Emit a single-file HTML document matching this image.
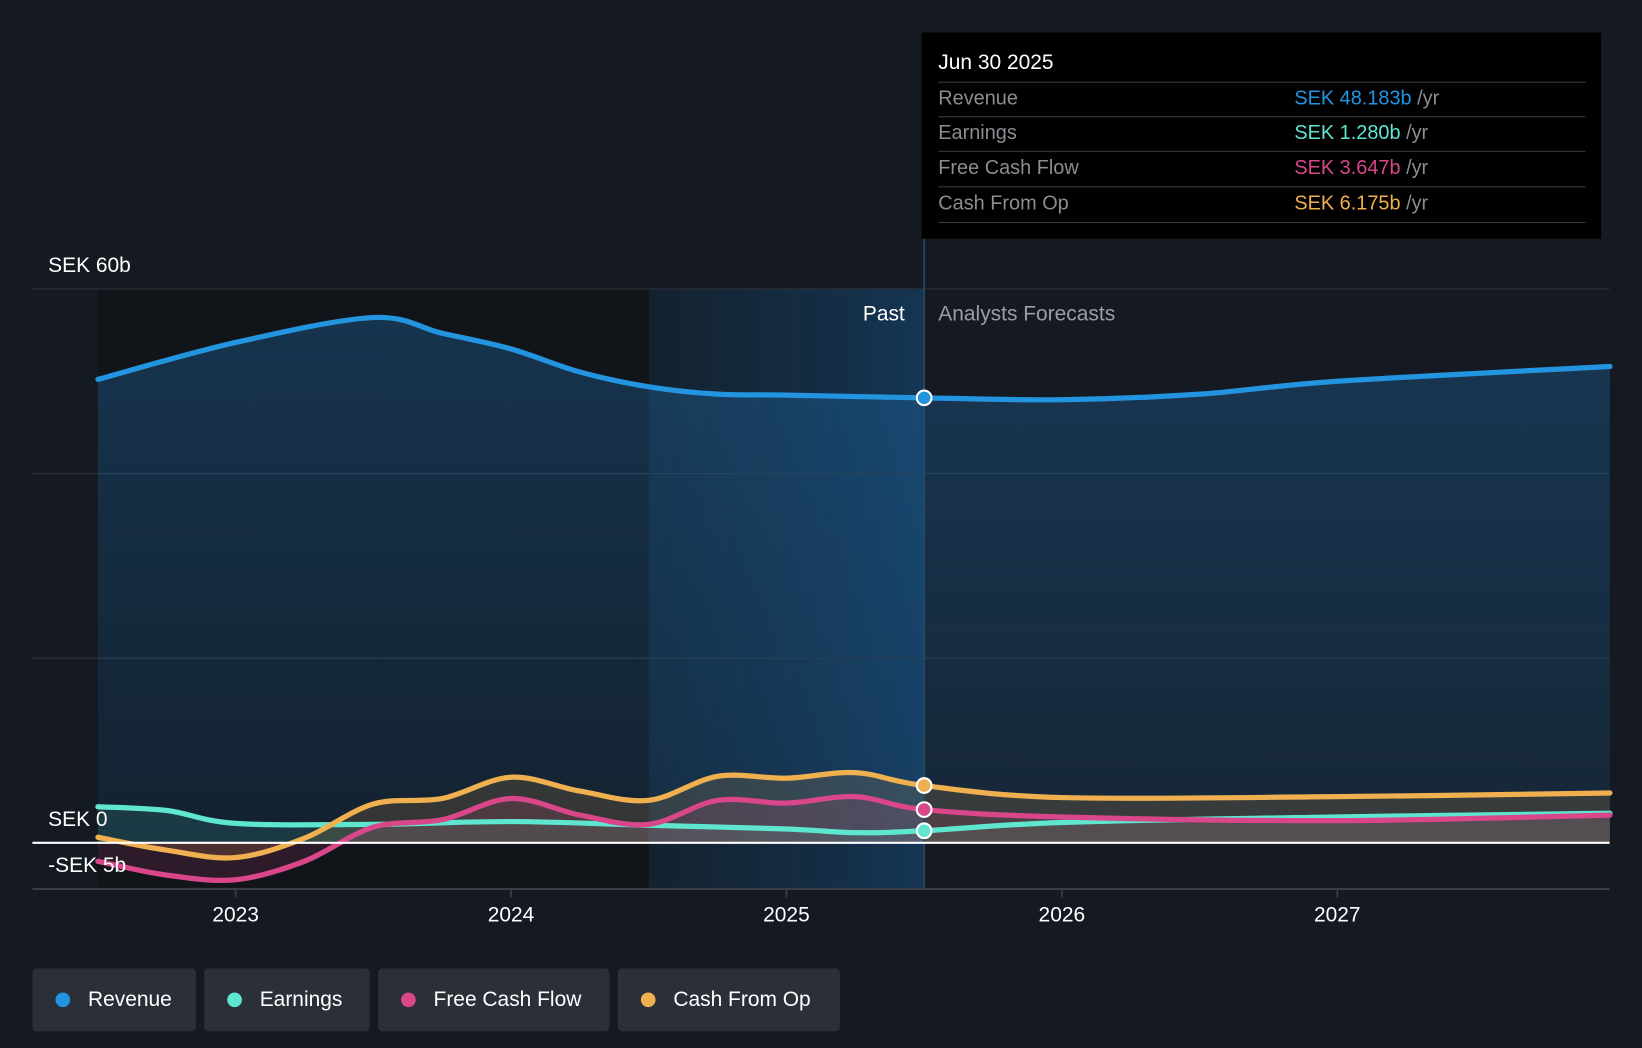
<!DOCTYPE html>
<html><head><meta charset="utf-8"><style>
html,body{margin:0;padding:0;width:1642px;height:1048px;overflow:hidden;background:#151a22;font-family:"Liberation Sans",Arial,sans-serif;}
#wrap{position:absolute;left:0;top:0;width:1568px;height:1001px;transform:scale(1.04719,1.04695);transform-origin:0 0;}
svg{position:absolute;left:0;top:0;}
.tip{position:absolute;left:880px;top:31px;width:649px;height:197px;background:#000;}
.tip .d{position:absolute;left:16px;top:18px;color:#fff;font-size:20px;}
.row{position:absolute;left:16px;width:618px;height:33px;border-top:1px solid #3a3d42;font-size:19px;color:#8a8d92;line-height:31px;}
.row span.v{position:absolute;left:340px;}
.leg{position:absolute;top:925px;height:60px;background:#2a2f38;border-radius:4px;color:#fff;font-size:20px;line-height:60px;}
.leg i{position:absolute;left:22px;top:23px;width:14px;height:14px;border-radius:50%;}
.leg span{position:absolute;left:53px;}
</style></head><body>
<div id="wrap">
<svg id="chart" width="1568" height="1001">
<defs>
<linearGradient id="pastHi" x1="0" x2="1" y1="0" y2="0"><stop offset="0" stop-color="#14283a" stop-opacity="0.6"/><stop offset="1" stop-color="#15395a" stop-opacity="0.9"/></linearGradient>
<linearGradient id="revFill" x1="0" x2="0" y1="0" y2="1"><stop offset="0" stop-color="#1f6fb0" stop-opacity="0.35"/><stop offset="1" stop-color="#1f6fb0" stop-opacity="0.15"/></linearGradient>
</defs>
</svg>
<div class="tip">
<div class="d">Jun 30 2025</div>
<div class="row" style="top:47px">Revenue<span class="v"><b style="font-weight:normal;color:#2394df">SEK 48.183b</b> /yr</span></div>
<div class="row" style="top:80px">Earnings<span class="v"><b style="font-weight:normal;color:#5ee6cf">SEK 1.280b</b> /yr</span></div>
<div class="row" style="top:113px">Free Cash Flow<span class="v"><b style="font-weight:normal;color:#d9468a">SEK 3.647b</b> /yr</span></div>
<div class="row" style="top:147px;height:33px;border-bottom:1px solid #3a3d42">Cash From Op<span class="v"><b style="font-weight:normal;color:#f0b050">SEK 6.175b</b> /yr</span></div>
</div>
<div class="leg" style="left:31px;width:156px"><i style="background:#2394df"></i><span>Revenue</span></div>
<div class="leg" style="left:195px;width:158px"><i style="background:#5ee6cf"></i><span>Earnings</span></div>
<div class="leg" style="left:361px;width:221px"><i style="background:#d9468a"></i><span>Free Cash Flow</span></div>
<div class="leg" style="left:590px;width:212px"><i style="background:#f0b050"></i><span>Cash From Op</span></div>
</div>
<script>
const revT=[2022.5,2023,2023.5,2023.75,2024,2024.25,2024.5,2024.75,2025,2025.5,2026,2026.5,2027,2027.99];
const revV=[50.2,54.2,56.9,55.2,53.5,51.0,49.4,48.6,48.5,48.2,48.0,48.6,50.0,51.6];
const cfoT=[2022.5,2022.75,2023,2023.25,2023.5,2023.75,2024,2024.25,2024.5,2024.75,2025,2025.25,2025.5,2026,2027,2027.99];
const cfoV=[0.6,-0.8,-1.6,0.5,4.2,4.8,7.1,5.6,4.6,7.2,7.0,7.6,6.2,4.9,5.0,5.4];
const fcfT=[2022.5,2022.75,2023,2023.25,2023.5,2023.75,2024,2024.25,2024.5,2024.75,2025,2025.25,2025.5,2026,2027,2027.99];
const fcfV=[-2.0,-3.5,-4.0,-2.0,1.7,2.5,4.8,3.0,2.0,4.6,4.3,5.0,3.6,2.8,2.4,3.0];
const earT=[2022.5,2022.75,2023,2023.5,2024,2024.5,2025,2025.25,2025.5,2026,2027,2027.99];
const earV=[3.9,3.5,2.1,2.0,2.3,1.9,1.5,1.1,1.3,2.2,2.8,3.2];
const yTicks=[60,40,20];
const xTicks=[2023,2024,2025,2026,2027];
const NS="http://www.w3.org/2000/svg";
const svg=document.getElementById('chart');
const X=t=>225+(t-2023)*263;
const Y=v=>805-v*8.817;
function mk(tag,at,parent){const e=document.createElementNS(NS,tag);for(const k in at)e.setAttribute(k,at[k]);(parent||svg).appendChild(e);return e;}
let r=mk('rect',{x:X(2022.5),y:Y(60),width:X(2024.5)-X(2022.5),height:Y(-5)-Y(60),fill:'#111419'});


r=mk('rect',{x:X(2024.5),y:Y(60),width:X(2025.5)-X(2024.5),height:Y(-5)-Y(60),fill:'url(#pastHi)'});


yTicks.forEach(v=>{const l=mk('line',{x1:31,x2:1537,y1:Y(v),y2:Y(v),stroke:'#2c323b','stroke-width':1});

});
function path(T,V){const p=T.map((t,i)=>[X(t),Y(V[i])]);let d=`M${p[0][0]},${p[0][1]}`;
for(let i=0;i<p.length-1;i++){const p0=p[Math.max(0,i-1)],p1=p[i],p2=p[i+1],p3=p[Math.min(p.length-1,i+2)];
const c1=[p1[0]+(p2[0]-p0[0])/6,p1[1]+(p2[1]-p0[1])/6],c2=[p2[0]-(p3[0]-p1[0])/6,p2[1]-(p3[1]-p1[1])/6];
d+=`C${c1[0]},${c1[1]} ${c2[0]},${c2[1]} ${p2[0]},${p2[1]}`;}return d;}
const series=[[revT,revV,'#2394df','url(#revFill)',1,'revenue'],[earT,earV,'#5ee6cf','#5ee6cf',0.12,'earnings'],[fcfT,fcfV,'#d9468a','#d9468a',0.15,'fcf'],[cfoT,cfoV,'#f0b050','#f0b050',0.15,'cfo']];
series.forEach(s=>{const d=path(s[0],s[1]);const x0=X(s[0][0]),x1=X(s[0][s[0].length-1]);
const a=mk('path',{d:d+`L${x1},${Y(0)}L${x0},${Y(0)}Z`,fill:s[3],'fill-opacity':s[4]});

});
series.forEach(s=>{const l=mk('path',{d:path(s[0],s[1]),fill:'none',stroke:s[2],'stroke-width':5,'stroke-linecap':'round'});

});
let dv=mk('line',{x1:X(2025.5),x2:X(2025.5),y1:228,y2:Y(-5),stroke:'#2a4a66','stroke-width':1.5});


let z=mk('line',{x1:31,x2:1537,y1:Y(0),y2:Y(0),stroke:'#fff','stroke-width':2});


let ax=mk('line',{x1:31,x2:1537,y1:Y(-5),y2:Y(-5),stroke:'#3a3f47','stroke-width':2});


xTicks.forEach(t=>{const tk=mk('line',{x1:X(t),x2:X(t),y1:Y(-5),y2:Y(-5)+8,stroke:'#3a3f47','stroke-width':1.5});


const tx=mk('text',{x:X(t),y:880,fill:'#fff','font-size':20,'text-anchor':'middle','font-family':'Liberation Sans, sans-serif'});tx.textContent=String(t);

});
function txt(x,y,s,c,anchor,name){const t=mk('text',{x,y,fill:c,'font-size':20,'text-anchor':anchor||'start','font-family':'Liberation Sans, sans-serif'});t.textContent=s;

}
txt(46,260,'SEK 60b','#fff','start','y-label-60b');
txt(46,789,'SEK 0','#fff','start','y-label-0');
txt(46,833,'-SEK 5b','#fff','start','y-label-neg5b');
txt(864,306,'Past','#fff','end','past-label');
txt(896,306,'Analysts Forecasts','#9a9da2','start','forecast-label');
[[revV[9],'#2394df'],[cfoV[12],'#f0b050'],[fcfV[12],'#d9468a'],[earV[8],'#5ee6cf']].forEach(m=>{
const c=mk('circle',{cx:X(2025.5),cy:Y(m[0]),r:7,fill:m[1],stroke:'#fff','stroke-width':2});

});
</script>
</body></html>
